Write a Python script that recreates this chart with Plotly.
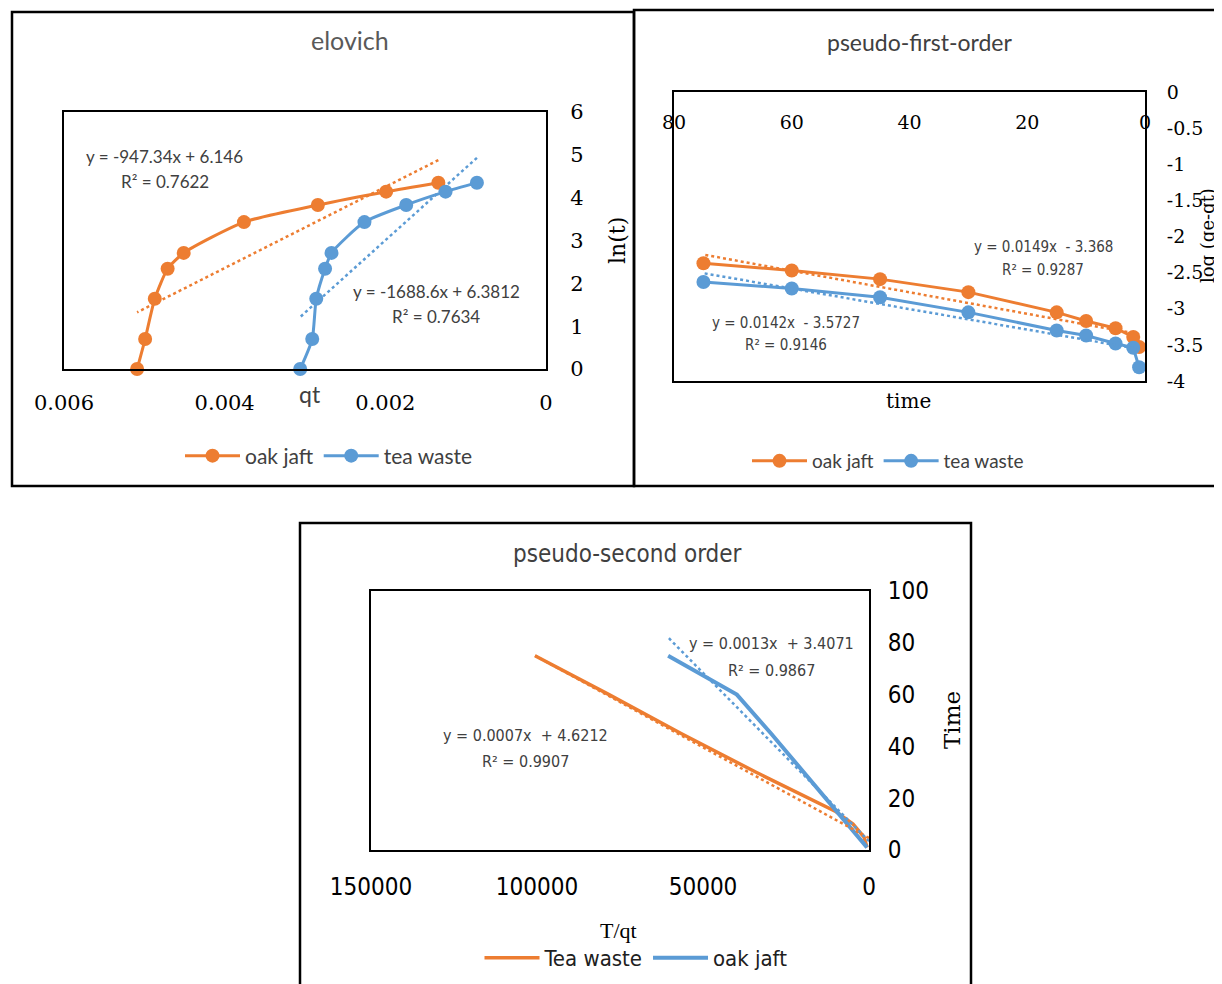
import plotly.graph_objects as go

W, H = 1222, 984
OFF = 8  # page body margin in the browser


def px(x):
    return (x - OFF) / W


def py(y):
    return 1 - (y - OFF) / H


ORANGE = "#ED7D31"
BLUE = "#5B9BD5"
SERIF = "DejaVu Serif"
CAL = "Lato"
NARROW = "Liberation Sans Narrow, DejaVu Sans Condensed, Liberation Sans"

# ---------------- Data ----------------
# Elovich: ln(t) vs qt
elo_lnt = [0, 0.70, 1.64, 2.34, 2.71, 3.43, 3.83, 4.14, 4.35]
elo_qt_oak = [0.00509, 0.00499, 0.00487, 0.00471, 0.00451, 0.00376, 0.00284, 0.00199, 0.00134]
elo_qt_tea = [0.00306, 0.00291, 0.00286, 0.00275, 0.00267, 0.00226, 0.00174, 0.00125, 0.00086]
elo_fit_oak = (-947.34, 6.146)
elo_fit_tea = (-1688.6, 6.3812)
elo_xticks = [0.006, 0.004, 0.002, 0]
elo_xticktext = ["0.006", "0.004", "0.002", "0"]
elo_yticks = [0, 1, 2, 3, 4, 5, 6]

# Pseudo-first-order: log(qe-qt) vs time
pfo_t = [75, 60, 45, 30, 15, 10, 5, 2, 1]
pfo_oak = [-2.37, -2.47, -2.59, -2.77, -3.05, -3.17, -3.27, -3.39, -3.53]
pfo_tea = [-2.63, -2.72, -2.84, -3.05, -3.30, -3.37, -3.48, -3.54, -3.81]
pfo_fit_oak = (0.0149, -3.368)
pfo_fit_tea = (0.0142, -3.5727)
pfo_xticks = [80, 60, 40, 20, 0]
pfo_yticks = [0, -0.5, -1, -1.5, -2, -2.5, -3, -3.5, -4]
pfo_yticktext = ["0", "-0.5", "-1", "-1.5", "-2", "-2.5", "-3", "-3.5", "-4"]

# Pseudo-second order: Time vs T/qt
pso_t = [75, 60, 45, 30, 15, 10, 5, 2, 1]
pso_tea = [100600, 78300, 56600, 34000, 10200, 4800, 1500, 900, 600]
pso_oak = [60500, 39800, 29500, 19600, 9900, 6600, 3300, 1200, 600]
pso_fit_tea = (0.0007, 4.6212)
pso_fit_oak = (0.0013, 3.4071)
pso_xticks = [150000, 100000, 50000, 0]
pso_xticktext = ["150000", "100000", "50000", "0"]
pso_yticks = [0, 20, 40, 60, 80, 100]


def fit_line(coef, xs):
    a, b = coef
    lo, hi = min(xs), max(xs)
    return [lo, hi], [a * lo + b, a * hi + b]


fig = go.Figure()

# ---- Panel 1: Elovich ----
fig.add_trace(go.Scatter(x=elo_qt_oak, y=elo_lnt, mode="lines+markers", name="oak jaft",
                         line=dict(color=ORANGE, width=3, shape="spline", smoothing=0.6),
                         marker=dict(size=14, color=ORANGE), cliponaxis=False,
                         xaxis="x", yaxis="y", legend="legend"))
fig.add_trace(go.Scatter(x=elo_qt_tea, y=elo_lnt, mode="lines+markers", name="tea waste",
                         line=dict(color=BLUE, width=3, shape="spline", smoothing=0.6),
                         marker=dict(size=14, color=BLUE), cliponaxis=False,
                         xaxis="x", yaxis="y", legend="legend"))
for coef, xs, col in [(elo_fit_oak, elo_qt_oak, ORANGE), (elo_fit_tea, elo_qt_tea, BLUE)]:
    fx, fy = fit_line(coef, xs)
    fig.add_trace(go.Scatter(x=fx, y=fy, mode="lines", showlegend=False, hoverinfo="skip",
                             line=dict(color=col, width=2.5, dash="dot"), xaxis="x", yaxis="y"))

# ---- Panel 2: pseudo-first-order ----
fig.add_trace(go.Scatter(x=pfo_t, y=pfo_oak, mode="lines+markers", name="oak jaft",
                         line=dict(color=ORANGE, width=3), marker=dict(size=14, color=ORANGE),
                         cliponaxis=False, xaxis="x2", yaxis="y2", legend="legend2"))
fig.add_trace(go.Scatter(x=pfo_t, y=pfo_tea, mode="lines+markers", name="tea waste",
                         line=dict(color=BLUE, width=3), marker=dict(size=14, color=BLUE),
                         cliponaxis=False, xaxis="x2", yaxis="y2", legend="legend2"))
for coef, xs, col in [(pfo_fit_oak, pfo_t, ORANGE), (pfo_fit_tea, pfo_t, BLUE)]:
    fx, fy = fit_line(coef, xs)
    fig.add_trace(go.Scatter(x=fx, y=fy, mode="lines", showlegend=False, hoverinfo="skip",
                             line=dict(color=col, width=2.5, dash="dot"), xaxis="x2", yaxis="y2"))

# ---- Panel 3: pseudo-second order ----
fig.add_trace(go.Scatter(x=pso_tea, y=pso_t, mode="lines", name="Tea waste",
                         line=dict(color=ORANGE, width=3.5), cliponaxis=False,
                         xaxis="x3", yaxis="y3", legend="legend3"))
fig.add_trace(go.Scatter(x=pso_oak, y=pso_t, mode="lines", name="oak jaft",
                         line=dict(color=BLUE, width=4), cliponaxis=False,
                         xaxis="x3", yaxis="y3", legend="legend3"))
for coef, xs, col in [(pso_fit_tea, pso_tea, ORANGE), (pso_fit_oak, pso_oak, BLUE)]:
    fx, fy = fit_line(coef, [0] + xs)
    fig.add_trace(go.Scatter(x=fx, y=fy, mode="lines", showlegend=False, hoverinfo="skip",
                             line=dict(color=col, width=2.5, dash="dot"), xaxis="x3", yaxis="y3"))

box = dict(showgrid=False, zeroline=False, showline=True, mirror=True, automargin=False,
           linecolor="black", linewidth=2, tickcolor="rgba(0,0,0,0)")

fig.update_layout(
    width=W, height=H, margin=dict(l=0, r=0, t=0, b=0, autoexpand=False),
    paper_bgcolor="white", plot_bgcolor="white", showlegend=True,
    xaxis=dict(box, domain=[px(64), px(546)], anchor="y", range=[0.006, 0],
               tickvals=elo_xticks, ticktext=elo_xticktext, ticks="outside", ticklen=14,
               tickfont=dict(family=SERIF, size=21, color="black")),
    yaxis=dict(box, domain=[py(369), py(112)], anchor="x", side="right", range=[0, 6],
               tickvals=elo_yticks, ticks="outside", ticklen=18,
               tickfont=dict(family=SERIF, size=21, color="black")),
    xaxis2=dict(box, domain=[px(674), px(1145)], anchor="y2", side="top", range=[80, 0],
                tickvals=pfo_xticks, ticks="inside", ticklen=25,
                ticklabelposition="inside", ticklabeloverflow="allow",
                tickfont=dict(family=SERIF, size=19, color="black")),
    yaxis2=dict(box, domain=[py(381), py(92)], anchor="x2", side="right", range=[-4, 0],
                tickvals=pfo_yticks, ticktext=pfo_yticktext, ticks="outside", ticklen=16,
                tickfont=dict(family=SERIF, size=19, color="black")),
    xaxis3=dict(box, domain=[px(371), px(869)], anchor="y3", range=[150000, 0],
                tickvals=pso_xticks, ticktext=pso_xticktext, ticks="outside", ticklen=14,
                tickfont=dict(family=NARROW, size=24, color="black")),
    yaxis3=dict(box, domain=[py(850), py(591)], anchor="x3", side="right", range=[0, 100],
                tickvals=pso_yticks, ticks="outside", ticklen=12,
                tickfont=dict(family=NARROW, size=24, color="black")),
    legend=dict(orientation="h", x=px(329), y=py(456), xanchor="center", yanchor="middle",
                itemwidth=55, font=dict(family=CAL, size=21, color="#404040"),
                bgcolor="rgba(0,0,0,0)"),
    legend2=dict(orientation="h", x=px(888), y=py(461), xanchor="center", yanchor="middle",
                 itemwidth=55, font=dict(family=CAL, size=19, color="#404040"),
                 bgcolor="rgba(0,0,0,0)"),
    legend3=dict(orientation="h", x=px(636), y=py(958), xanchor="center", yanchor="middle",
                 itemwidth=55, font=dict(family=NARROW, size=22, color="#202020"),
                 bgcolor="rgba(0,0,0,0)"),
)

# Panel frames
for x0, y0, x1, y1 in [(12, 12, 634, 486), (634, 10, 1236, 486), (300, 523, 971, 1000)]:
    fig.add_shape(type="rect", xref="paper", yref="paper", x0=px(x0), x1=px(x1),
                  y0=py(y1), y1=py(y0), line=dict(color="black", width=2.5))


def ann(text, x, y, family, size, color="#404040", angle=0):
    fig.add_annotation(text=text, x=px(x), y=py(y), xref="paper", yref="paper",
                       showarrow=False, xanchor="center", yanchor="middle",
                       textangle=angle, font=dict(family=family, size=size, color=color))


# Titles
ann("elovich", 350, 40, CAL, 25, "#595959")
ann("pseudo-first-order", 919, 42, CAL, 23, "#404040")
ann("pseudo-second order", 627, 554, NARROW, 24, "#404040")

# Axis titles
ann("qt", 310, 394, CAL, 23, "#404040")
ann("ln(t)", 617, 241, SERIF, 22, "black", -90)
ann("time", 908, 401, SERIF, 20, "black")
ann("log (qe-qt)", 1208, 236, SERIF, 18, "black", -90)
ann("T/qt", 618, 930, "Liberation Serif", 22, "black")
ann("Time", 952, 720, SERIF, 23, "black", -90)

# Trendline equations
ann("y = -947.34x + 6.146", 164, 157, CAL, 17)
ann("R² = 0.7622", 165, 182, CAL, 17)
ann("y = -1688.6x + 6.3812", 436, 292, CAL, 17)
ann("R² = 0.7634", 436, 316, CAL, 17)
ann("y = 0.0149x  - 3.368", 1043, 247, NARROW, 15)
ann("R² = 0.9287", 1043, 270, NARROW, 15)
ann("y = 0.0142x  - 3.5727", 786, 323, NARROW, 15)
ann("R² = 0.9146", 786, 345, NARROW, 15)
ann("y = 0.0013x  + 3.4071", 771, 643, NARROW, 16)
ann("R² = 0.9867", 771, 670, NARROW, 16)
ann("y = 0.0007x  + 4.6212", 525, 735, NARROW, 16)
ann("R² = 0.9907", 525, 761, NARROW, 16)

fig.write_html("out.html")
